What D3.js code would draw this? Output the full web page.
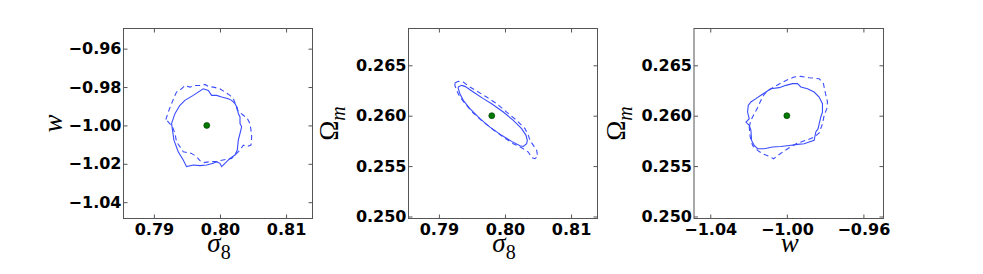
<!DOCTYPE html>
<html>
<head>
<meta charset="utf-8">
<script src="https://cdn.jsdelivr.net/npm/d3@7"></script>
<style>
  html, body { margin: 0; padding: 0; background: #fff; }
  svg { display: block; }
</style>
</head>
<body>
<svg id="chart" width="983" height="274"></svg>
<script>
// ---------------- data ----------------
const fiducial = { sigma8: 0.798, w: -1.00, omegaM: 0.260 };

const sigma8Ticks = [0.79, 0.80, 0.81];
const wTicks = [-0.96, -0.98, -1.00, -1.02, -1.04];
const wTicksX = [-1.04, -1.00, -0.96];
const omegaTicks = [0.250, 0.255, 0.260, 0.265];

const sigma8Domain = [0.7854, 0.8140];
const wDomain = [-1.0485, -0.9495];
const omegaDomain = [0.2498, 0.26865];

// panel 1: (sigma8, w)
const sigW_solid = [
  [0.79267,-0.99903],[0.79318,-0.99385],[0.79394,-0.98953],[0.79469,-0.98694],[0.79595,-0.98435],
  [0.79747,-0.98090],[0.79823,-0.98176],[0.79873,-0.98435],[0.79949,-0.98435],[0.80025,-0.98522],
  [0.80126,-0.98608],[0.80176,-0.98694],[0.80227,-0.98867],[0.80262,-0.99074],[0.80277,-0.99385],
  [0.80303,-0.99558],[0.80303,-0.99903],[0.80328,-1.00076],[0.80303,-1.00421],[0.80277,-1.00767],
  [0.80262,-1.01285],[0.80227,-1.01544],[0.80151,-1.01717],[0.80075,-1.01976],[0.80025,-1.02148],
  [0.79999,-1.01976],[0.79949,-1.01889],[0.79899,-1.01976],[0.79798,-1.02062],[0.79697,-1.02096],
  [0.79595,-1.02062],[0.79494,-1.02148],[0.79444,-1.01803],[0.79368,-1.01371],[0.79303,-1.00767],
  [0.79282,-1.00249]
];
const sigW_dashed = [
  [0.79181,-0.99696],[0.79217,-0.99299],[0.79267,-0.98867],[0.79318,-0.98435],[0.79343,-0.98263],
  [0.79419,-0.98090],[0.79469,-0.97917],[0.79545,-0.98004],[0.79621,-0.97917],[0.79697,-0.97917],
  [0.79772,-0.97865],[0.79823,-0.97969],[0.79899,-0.98004],[0.79999,-0.98090],[0.80075,-0.98263],
  [0.80151,-0.98435],[0.80202,-0.98608],[0.80242,-0.98953],[0.80262,-0.99212],[0.80353,-0.99471],
  [0.80414,-0.99644],[0.80454,-0.99903],[0.80469,-1.00249],[0.80480,-1.00594],[0.80469,-1.01026],
  [0.80404,-1.01112],[0.80353,-1.01026],[0.80303,-1.01285],[0.80227,-1.01544],[0.80176,-1.01717],
  [0.80100,-1.01768],[0.79999,-1.01837],[0.79949,-1.01889],[0.79848,-1.01889],[0.79747,-1.01941],
  [0.79697,-1.01837],[0.79646,-1.01630],[0.79570,-1.01458],[0.79444,-1.01371],[0.79394,-1.01112],
  [0.79343,-1.00853],[0.79318,-1.00421],[0.79282,-1.00076],[0.79217,-0.99817]
];

// panel 2: (sigma8, Omega_m)
const sigOm_solid = [
  [0.79293,0.26284],[0.79343,0.26301],[0.79394,0.26291],[0.79520,0.26235],[0.79672,0.26169],
  [0.79798,0.26119],[0.79975,0.26036],[0.80126,0.25954],[0.80252,0.25871],[0.80318,0.25805],
  [0.80338,0.25755],[0.80328,0.25722],[0.80278,0.25695],[0.80227,0.25702],[0.80101,0.25745],
  [0.79949,0.25805],[0.79773,0.25887],[0.79621,0.25970],[0.79470,0.26069],[0.79369,0.26152],
  [0.79318,0.26218],[0.79293,0.26268]
];
const sigOm_dashed = [
  [0.79242,0.26324],[0.79293,0.26341],[0.79369,0.26334],[0.79470,0.26284],[0.79571,0.26245],
  [0.79722,0.26185],[0.79874,0.26119],[0.80025,0.26036],[0.80177,0.25954],[0.80303,0.25871],
  [0.80353,0.25805],[0.80379,0.25755],[0.80429,0.25705],[0.80480,0.25656],[0.80495,0.25596],
  [0.80454,0.25573],[0.80404,0.25583],[0.80353,0.25639],[0.80252,0.25682],[0.80126,0.25722],
  [0.79975,0.25788],[0.79823,0.25861],[0.79672,0.25937],[0.79520,0.26026],[0.79419,0.26102],
  [0.79318,0.26185],[0.79268,0.26251],[0.79242,0.26301]
];

// panel 3: (w, Omega_m)
const wOm_solid = [
  [-1.02137,0.25937],[-1.01964,0.25970],[-1.02051,0.26036],[-1.02016,0.26102],[-1.01877,0.26136],
  [-1.01616,0.26169],[-1.01355,0.26202],[-1.01094,0.26235],[-1.00833,0.26268],[-1.00398,0.26278],
  [-1.00051,0.26301],[-0.99703,0.26318],[-0.99442,0.26318],[-0.99268,0.26285],[-0.98920,0.26268],
  [-0.98573,0.26235],[-0.98312,0.26185],[-0.98138,0.26119],[-0.98138,0.26036],[-0.98225,0.25987],
  [-0.98312,0.25920],[-0.98364,0.25871],[-0.98486,0.25838],[-0.98573,0.25755],[-0.98834,0.25738],
  [-0.99094,0.25722],[-0.99442,0.25715],[-0.99877,0.25705],[-1.00312,0.25695],[-1.00747,0.25689],
  [-1.01181,0.25672],[-1.01529,0.25672],[-1.01703,0.25705],[-1.01842,0.25755],[-1.01877,0.25854],
  [-1.01964,0.25904]
];
const wOm_dashed = [
  [-1.01964,0.25887],[-1.01877,0.25954],[-1.01703,0.26020],[-1.01529,0.26079],[-1.01355,0.26152],
  [-1.01181,0.26212],[-1.00972,0.26251],[-1.00659,0.26285],[-1.00312,0.26324],[-0.99964,0.26357],
  [-0.99616,0.26384],[-0.99268,0.26390],[-0.98833,0.26377],[-0.98312,0.26367],[-0.98086,0.26318],
  [-0.97999,0.26235],[-0.97877,0.26136],[-0.97912,0.26069],[-0.98051,0.26003],[-0.98138,0.25920],
  [-0.98312,0.25828],[-0.98573,0.25788],[-0.98920,0.25761],[-0.99442,0.25728],[-0.99877,0.25682],
  [-1.00225,0.25639],[-1.00694,0.25573],[-1.00920,0.25596],[-1.01268,0.25623],[-1.01529,0.25656],
  [-1.01790,0.25705],[-1.01912,0.25788]
];

// ---------------- drawing ----------------
const svg = d3.select("#chart");
const topY = 28.5, bottomY = 218.5;
const fmt = d => d3.format(".2f")(d).replace("-", "\u2212");
const fmt3 = d => d3.format(".3f")(d);

const panels = [
  { left: 123.5, right: 312.5, xDom: sigma8Domain, yDom: wDomain, xt: sigma8Ticks, yt: wTicks,
    xf: fmt, yf: fmt, solid: sigW_solid, dashed: sigW_dashed, pt: [fiducial.sigma8, fiducial.w],
    xlab: "sigma8", ylab: "w", ylabX: 61.5 },
  { left: 408.5, right: 597.5, xDom: sigma8Domain, yDom: omegaDomain, xt: sigma8Ticks, yt: omegaTicks,
    xf: fmt, yf: fmt3, solid: sigOm_solid, dashed: sigOm_dashed, pt: [fiducial.sigma8, fiducial.omegaM],
    xlab: "sigma8", ylab: "om", ylabX: 338 },
  { left: 694, right: 883.5, xDom: wDomain, yDom: omegaDomain, xt: wTicksX, yt: omegaTicks,
    xf: fmt, yf: fmt3, solid: wOm_solid, dashed: wOm_dashed, pt: [fiducial.w, fiducial.omegaM],
    xlab: "w", ylab: "om", ylabX: 624.5 }
];

const tickFont = "'DejaVu Sans', sans-serif";
const mathFont = "'Liberation Serif', 'DejaVu Serif', serif";

panels.forEach(p => {
  const x = d3.scaleLinear().domain(p.xDom).range([p.left, p.right]);
  const y = d3.scaleLinear().domain(p.yDom).range([bottomY, topY]);
  const g = svg.append("g");

  // contours
  const line = d3.line().x(d => x(d[0])).y(d => y(d[1])).curve(d3.curveLinearClosed);
  g.append("path").attr("d", line(p.dashed)).attr("fill", "none")
    .attr("stroke", "#3a4cff").attr("stroke-width", 1.1).attr("stroke-dasharray", "5,3.5");
  g.append("path").attr("d", line(p.solid)).attr("fill", "none")
    .attr("stroke", "#3a4cff").attr("stroke-width", 1.1);

  // fiducial point
  g.append("circle").attr("cx", x(p.pt[0])).attr("cy", y(p.pt[1])).attr("r", 3)
    .attr("fill", "#007a00").attr("stroke", "#003300").attr("stroke-width", 0.6);

  // axes
  const axB = g.append("g").attr("transform", `translate(0,${bottomY})`)
    .call(d3.axisBottom(x).tickValues(p.xt).tickFormat(p.xf).tickSizeInner(-4).tickSizeOuter(0).tickPadding(5));
  const axT = g.append("g").attr("transform", `translate(0,${topY})`)
    .call(d3.axisTop(x).tickValues(p.xt).tickFormat("").tickSizeInner(-4).tickSizeOuter(0));
  const axL = g.append("g").attr("transform", `translate(${p.left},0)`)
    .call(d3.axisLeft(y).tickValues(p.yt).tickFormat(p.yf).tickSizeInner(-4).tickSizeOuter(0).tickPadding(2));
  const axR = g.append("g").attr("transform", `translate(${p.right},0)`)
    .call(d3.axisRight(y).tickValues(p.yt).tickFormat("").tickSizeInner(-4).tickSizeOuter(0));
  [axB, axT, axL, axR].forEach(a => {
    a.select(".domain").remove();
    a.selectAll(".tick line").attr("stroke", "#555").attr("stroke-width", 1);
    a.selectAll("text").attr("fill", "#000").style("font-family", tickFont)
      .style("font-size", "16px").style("font-weight", "bold");
  });

  // frame
  g.append("rect").attr("x", p.left).attr("y", topY).attr("width", p.right - p.left)
    .attr("height", bottomY - topY).attr("fill", "none").attr("stroke", "#555").attr("stroke-width", 1);

  // x label
  const cx = (p.left + p.right) / 2;
  const xl = g.append("text").attr("x", cx + 1).attr("y", 251.5).attr("text-anchor", "middle")
    .style("font-family", mathFont).style("font-size", "27px");
  if (p.xlab === "sigma8") {
    xl.append("tspan").style("font-style", "italic").text("σ");
    xl.append("tspan").attr("dy", 7).style("font-size", "20px").text("8");
  } else {
    xl.append("tspan").style("font-style", "italic").text("w");
  }

  // y label
  const cy = (topY + bottomY) / 2;
  const yl = g.append("text").attr("transform", `translate(${p.ylabX},${cy}) rotate(-90)`)
    .attr("text-anchor", "middle").style("font-family", mathFont).style("font-size", "27px");
  if (p.ylab === "w") {
    yl.append("tspan").style("font-style", "italic").text("w");
  } else {
    yl.append("tspan").text("Ω");
    yl.append("tspan").attr("dy", 7).style("font-style", "italic").style("font-size", "20px").text("m");
  }
});
</script>
</body>
</html>
